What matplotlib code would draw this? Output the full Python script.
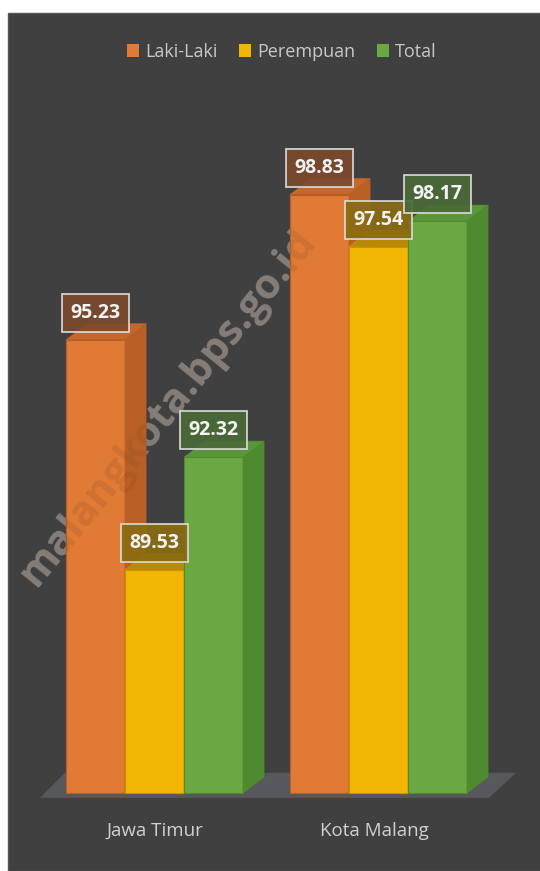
import matplotlib.pyplot as plt
from matplotlib.patches import Polygon, Rectangle, Patch
import numpy as np

plt.rcParams['font.family'] = ['Open Sans', 'DejaVu Sans']

regions = ['Jawa Timur', 'Kota Malang']
series = ['Laki-Laki', 'Perempuan', 'Total']
laki = [95.23, 98.83]
perempuan = [89.53, 97.54]
total = [92.32, 98.17]
values = [laki, perempuan, total]

front = ['#E07A35', '#F2B705', '#6BA843']
side = ['#B95F25', '#C79400', '#4F8A2F']
top = ['#C6682B', '#B98A08', '#5A9637']
boxfill = ['#7B4A2E', '#8A6C12', '#4A6A38']

BG = '#404040'
BASE = 84
W = 0.2634      # bar width
DX, DY = 0.094, 0.40   # 3d depth


def bar3d(ax, x, v, i):
    ax.bar(x, v - BASE, bottom=BASE, width=W, color=front[i],
           edgecolor=side[i], linewidth=0.8, zorder=3)
    r = x + W / 2
    l = x - W / 2
    ax.add_patch(Polygon([(r, BASE), (r + DX, BASE + DY), (r + DX, v + DY), (r, v)],
                         closed=True, facecolor=side[i], edgecolor=side[i], lw=0.5, zorder=3))
    ax.add_patch(Polygon([(l, v), (r, v), (r + DX, v + DY), (l + DX, v + DY)],
                         closed=True, facecolor=top[i], edgecolor=side[i], lw=0.5, zorder=3))


def value_box(ax, x, v, i):
    bw, bh = 0.295, 0.94
    y0 = v + 0.2
    ax.add_patch(Rectangle((x - bw / 2, y0), bw, bh, facecolor=boxfill[i], alpha=0.92,
                           edgecolor='#dcdcdc', linewidth=1.3, zorder=5))
    ax.text(x, y0 + bh / 2, f'{v:.2f}', ha='center', va='center', color='#f4f4f4',
            fontsize=14, fontweight='bold', zorder=6)


fig = plt.figure(figsize=(5.4, 8.71), dpi=100, facecolor='white')
ax = fig.add_axes([0, 0, 1, 1])
ax.set_xlim(-0.6897, 1.7210)
ax.set_ylim(82.067, 103.653)
ax.axis('off')

# dark chart area with white margin on left/top
ax.add_patch(Rectangle((8 / 540, 0), 1, 1 - 13 / 871, transform=ax.transAxes,
                       facecolor=BG, edgecolor='#555555', lw=1, zorder=0))

# floor
ax.add_patch(Polygon([(-0.511, BASE - 0.12), (1.493, BASE - 0.12),
                      (1.614, BASE + 0.5), (-0.40, BASE + 0.5)],
                     closed=True, facecolor='#56585c', edgecolor='none', zorder=1))

# watermark (strong on background, faint over the bars)
wm = dict(rotation=51, ha='center', va='center', fontsize=30, fontweight='bold')
ax.text(0.06, 93.55, 'malangkota.bps.go.id', color='#c4c4c4', alpha=0.55, zorder=2, **wm)
ax.text(0.06, 93.55, 'malangkota.bps.go.id', color='#7a4a2a', alpha=0.18, zorder=4, **wm)

x = np.arange(len(regions))
offsets = [-W, 0, W]
for g in range(len(regions)):
    for i in range(len(series)):
        bar3d(ax, x[g] + offsets[i], values[i][g], i)
for g in range(len(regions)):
    for i in range(len(series)):
        value_box(ax, x[g] + offsets[i], values[i][g], i)

for g, name in enumerate(regions):
    ax.text(x[g] + (0 if g == 0 else -0.02), BASE - 0.94, name, ha='center', va='center',
            color='#d0d0d0', fontsize=13.5)

handles = [Patch(facecolor=front[i], edgecolor='none') for i in range(3)]
fig.legend(handles, series, loc='center', bbox_to_anchor=(282 / 540, 1 - 52 / 871),
           ncol=3, frameon=False, fontsize=13, labelcolor='#c8c8c8',
           handlelength=0.65, handleheight=0.75, handletextpad=0.35, columnspacing=1.2)

fig.savefig('out.png', dpi=100, facecolor='white')
